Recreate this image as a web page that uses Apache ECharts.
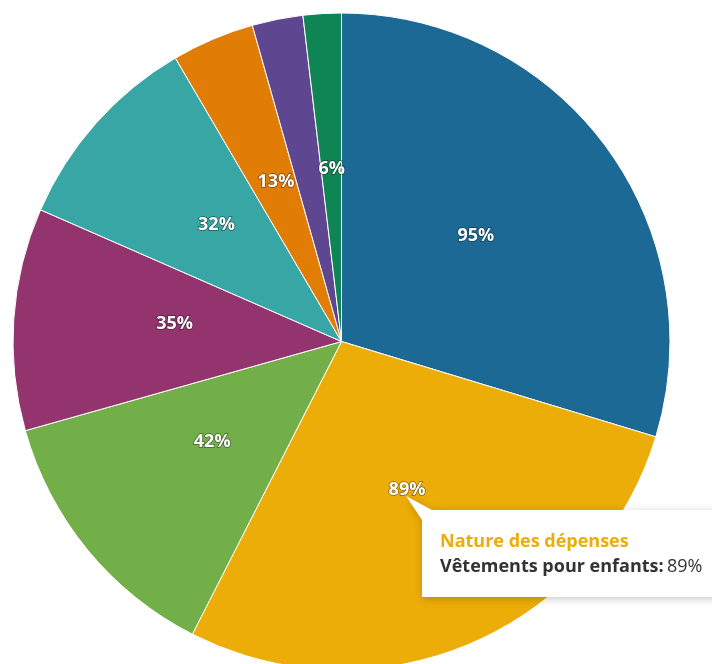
<!DOCTYPE html>
<html><head><meta charset="utf-8">
<script src="https://cdn.jsdelivr.net/npm/echarts@6/dist/echarts.min.js"></script>
<style>html,body{margin:0;padding:0;background:#fff}#c{width:712px;height:664px}</style>
</head><body><div id="c"></div>
<script>
const seriesName = "Nature des dépenses";
const categories = ["Alimentation", "Vêtements pour enfants", "Fournitures scolaires", "Loisirs", "Santé", "Transport", "Logement", "Autres"];
const values = [95, 89, 42, 35, 32, 13, 8, 6];
const colors = ["#1D6996", "#EDAD08", "#73AF48", "#94346E", "#38A6A5", "#E17C05", "#5F4690", "#0F8554"];
const hiddenLabels = [6];
const tipIndex = 1;

const FONT = "'Open Sans'";
const chart = echarts.init(document.getElementById('c'), null, {renderer: 'canvas'});
const data = categories.map((c, i) => ({
  name: c, value: values[i],
  itemStyle: {color: colors[i]},
  label: {show: hiddenLabels.indexOf(i) < 0}
}));
chart.setOption({
  animation: false,
  series: [{
    type: 'pie', name: seriesName,
    center: [341.5, 341.5], radius: 328.5,
    startAngle: 90, clockwise: true,
    itemStyle: {borderColor: '#fff', borderWidth: 1},
    label: {
      show: true, position: 'inside', formatter: '{c}%', offset: [0, -6],
      color: '#fff', fontFamily: FONT, fontWeight: 'bold', fontSize: 18,
      textBorderColor: 'rgba(0,0,0,0.45)', textBorderWidth: 1.5
    },
    labelLine: {show: false},
    emphasis: {disabled: true},
    data: data
  }],
  graphic: [{
    type: 'polygon', z: 100,
    shape: {points: [[406, 496], [432, 510], [740, 510], [740, 597], [422, 597], [422, 520]]},
    style: {fill: '#fff', shadowBlur: 8, shadowColor: 'rgba(0,0,0,0.22)', shadowOffsetX: 1, shadowOffsetY: 2}
  }, {
    type: 'text', z: 101, x: 440, y: 533,
    style: {text: seriesName, fill: colors[tipIndex], font: 'bold 18px ' + FONT}
  }, {
    type: 'text', z: 101, x: 440, y: 558,
    style: {
      text: '{b|' + categories[tipIndex] + ':} {v|' + values[tipIndex] + '%}',
      rich: {
        b: {fontFamily: FONT, fontWeight: 'bold', fontSize: 18, fill: '#333', color: '#333'},
        v: {fontFamily: FONT, fontSize: 18, fill: '#333', color: '#333'}
      }
    }
  }]
});
</script></body></html>
